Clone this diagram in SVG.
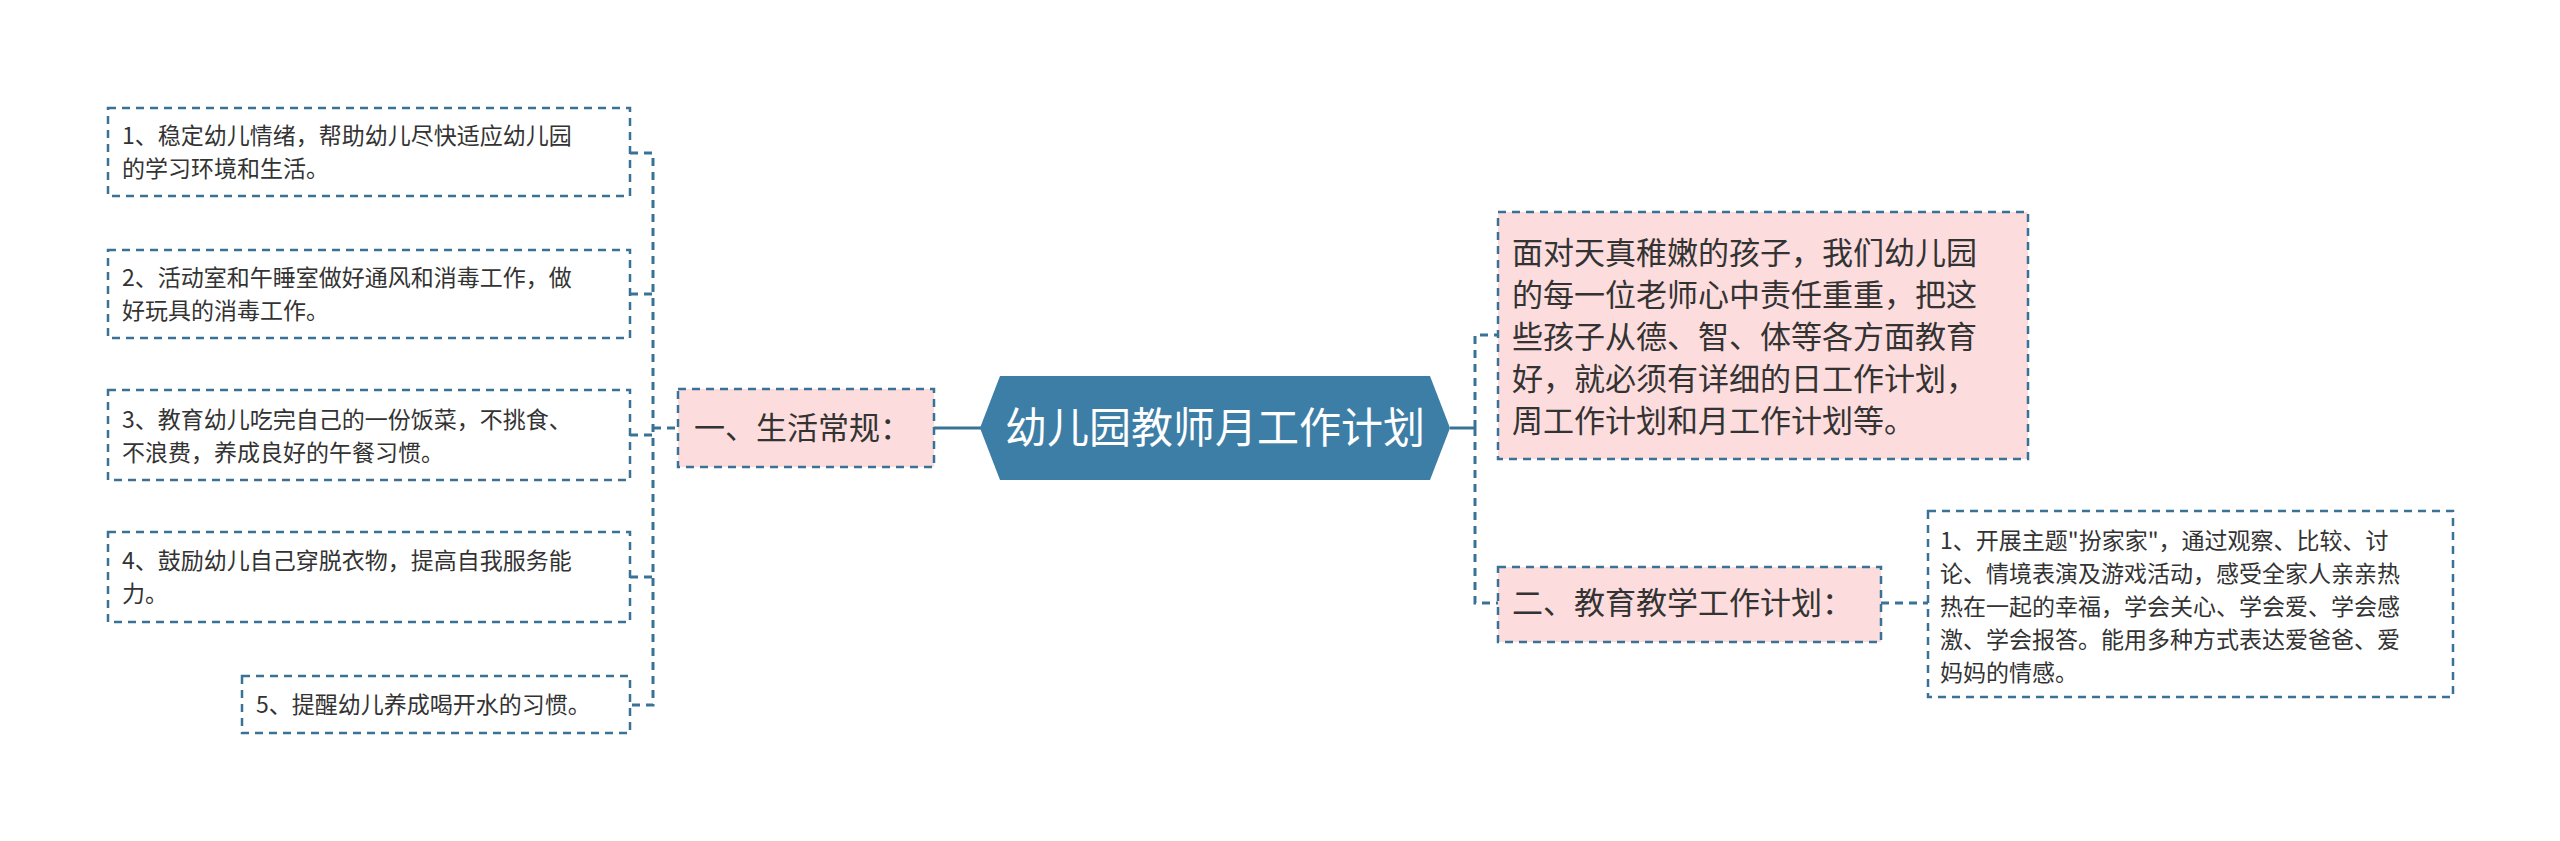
<svg xmlns="http://www.w3.org/2000/svg" width="2560" height="841" viewBox="0 0 2560 841">
<style>
.b{fill:#fff;stroke:#3a7297;stroke-width:2.5;stroke-dasharray:8 6}
.p{fill:#fcdcdc;stroke:#3a7297;stroke-width:2.5;stroke-dasharray:8 6}
.c{fill:none;stroke:#3a7297;stroke-width:3;stroke-dasharray:8 6}
text{font-family:"Noto Sans CJK SC","Noto Sans",sans-serif;fill:#333}
.s{font-size:23px}
.m{font-size:31px}
</style>
<rect width="2560" height="841" fill="#fff"/>
<g id="connectors">
<path class="c" d="M630 153 H653 V705 H630 M630 294 H653 M630 435 H653 M630 577 H653 M653 428 H678"/>
<path d="M934 428 H982" stroke="#3a7297" stroke-width="3" fill="none"/>
<path d="M1450 428 H1475" stroke="#3a7297" stroke-width="3" fill="none"/>
<path class="c" d="M1475 428 V335 H1498 M1475 428 V603 H1498 M1881 603 H1928"/>
</g>
<g id="center">
<polygon points="980,428 1000,376 1430,376 1450,428 1430,480 1000,480" fill="#3d7ea6"/>
<text x="1215" y="443" font-size="42" text-anchor="middle" style="fill:#fff">幼儿园教师月工作计划</text>
</g>
<g id="n1"><rect class="p" x="678" y="389" width="256" height="78"/><text class="m" x="694" y="439">一、生活常规：</text></g>
<g id="l1"><rect class="b" x="108" y="108" width="522" height="88"/><text class="s" x="122" y="144">1、稳定幼儿情绪，帮助幼儿尽快适应幼儿园</text><text class="s" x="122" y="177">的学习环境和生活。</text></g>
<g id="l2"><rect class="b" x="108" y="250" width="522" height="88"/><text class="s" x="122" y="286">2、活动室和午睡室做好通风和消毒工作，做</text><text class="s" x="122" y="319">好玩具的消毒工作。</text></g>
<g id="l3"><rect class="b" x="108" y="390" width="522" height="90"/><text class="s" x="122" y="428">3、教育幼儿吃完自己的一份饭菜，不挑食、</text><text class="s" x="122" y="461">不浪费，养成良好的午餐习惯。</text></g>
<g id="l4"><rect class="b" x="108" y="532" width="522" height="90"/><text class="s" x="122" y="569">4、鼓励幼儿自己穿脱衣物，提高自我服务能</text><text class="s" x="122" y="602">力。</text></g>
<g id="l5"><rect class="b" x="242" y="676" width="388" height="57"/><text class="s" x="256" y="713">5、提醒幼儿养成喝开水的习惯。</text></g>
<g id="r1"><rect class="p" x="1498" y="212" width="530" height="247"/>
<text class="m" x="1512"><tspan x="1512" y="264">面对天真稚嫩的孩子，我们幼儿园</tspan><tspan x="1512" y="306">的每一位老师心中责任重重，把这</tspan><tspan x="1512" y="348">些孩子从德、智、体等各方面教育</tspan><tspan x="1512" y="390">好，就必须有详细的日工作计划，</tspan><tspan x="1512" y="432">周工作计划和月工作计划等。</tspan></text></g>
<g id="r2"><rect class="p" x="1498" y="567" width="383" height="75"/><text class="m" x="1512" y="614">二、教育教学工作计划：</text></g>
<g id="r3"><rect class="b" x="1928" y="511" width="525" height="186"/>
<text class="s"><tspan x="1940" y="549">1、开展主题"扮家家"，通过观察、比较、讨</tspan><tspan x="1940" y="582">论、情境表演及游戏活动，感受全家人亲亲热</tspan><tspan x="1940" y="615">热在一起的幸福，学会关心、学会爱、学会感</tspan><tspan x="1940" y="648">激、学会报答。能用多种方式表达爱爸爸、爱</tspan><tspan x="1940" y="681">妈妈的情感。</tspan></text></g>
</svg>
